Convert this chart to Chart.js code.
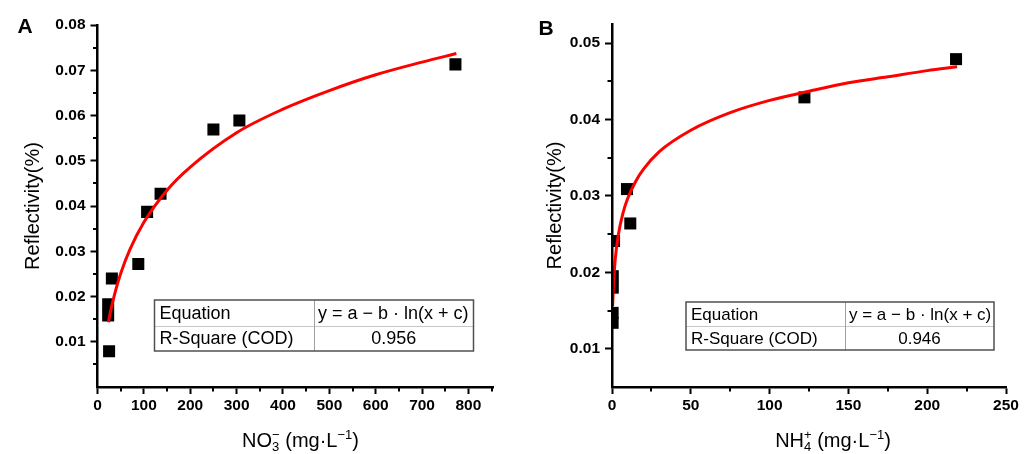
<!DOCTYPE html>
<html><head><meta charset="utf-8">
<script src="https://cdn.jsdelivr.net/npm/chart.js@4.4.1/dist/chart.umd.min.js"></script>
<style>
html,body{margin:0;padding:0;background:#fff;width:1030px;height:454px;overflow:hidden}
canvas{position:absolute;top:0}
</style></head>
<body>
<canvas id="ca" width="515" height="454" style="left:0"></canvas>
<canvas id="cb" width="515" height="454" style="left:515px"></canvas>
<script>
// ---------- Panel A : NO3- ----------
const nitrateX = [23, 23, 25, 31, 88, 107, 136, 250, 306, 772];
const nitrateY = [0.0158, 0.0183, 0.0079, 0.0240, 0.0272, 0.0387, 0.0427, 0.0569, 0.0589, 0.0713];
const nitrateFitX = [23.4, 30, 40, 50, 70, 100, 150, 200, 300, 400, 500, 600, 700, 774];
const nitrateFitY = [0.0143, 0.0176, 0.0217, 0.0251, 0.0304, 0.0364, 0.0435, 0.0486, 0.0562, 0.0614, 0.0655, 0.0690, 0.0718, 0.0737];
const xTicksA = [0, 100, 200, 300, 400, 500, 600, 700, 800];
const xTickLabelsA = ['0', '100', '200', '300', '400', '500', '600', '700', '800'];
const xMinorA = [50, 150, 250, 350, 450, 550, 650, 750, 850];
const yTicksA = [0.01, 0.02, 0.03, 0.04, 0.05, 0.06, 0.07, 0.08];
const yTickLabelsA = ['0.01', '0.02', '0.03', '0.04', '0.05', '0.06', '0.07', '0.08'];
const yMinorA = [0.005, 0.015, 0.025, 0.035, 0.045, 0.055, 0.065, 0.075];
const tableA = [['Equation', 'y = a \u2212 b \u00b7 ln(x + c)'], ['R-Square (COD)', '0.956']];

// ---------- Panel B : NH4+ ----------
const ammoniumX = [0.4, 0.4, 0.5, 0.5, 1.3, 9.5, 11.6, 122.1, 218.3];
const ammoniumY = [0.0134, 0.0147, 0.0180, 0.0195, 0.0241, 0.0309, 0.0264, 0.0429, 0.0479];
const ammoniumFitX = [0.4, 1, 2, 4, 7, 10, 15, 20, 30, 50, 75, 100, 125, 150, 175, 200, 219];
const ammoniumFitY = [0.0156, 0.0187, 0.0216, 0.0249, 0.0278, 0.0297, 0.0319, 0.0335, 0.0358, 0.0386, 0.0409, 0.0425, 0.0437, 0.0448, 0.0456, 0.0464, 0.0469];
const xTicksB = [0, 50, 100, 150, 200, 250];
const xTickLabelsB = ['0', '50', '100', '150', '200', '250'];
const xMinorB = [25, 75, 125, 175, 225];
const yTicksB = [0.01, 0.02, 0.03, 0.04, 0.05];
const yTickLabelsB = ['0.01', '0.02', '0.03', '0.04', '0.05'];
const yMinorB = [0.015, 0.025, 0.035, 0.045];
const tableB = [['Equation', 'y = a \u2212 b \u00b7 ln(x + c)'], ['R-Square (COD)', '0.946']];

const FONT = '"Liberation Sans", Arial, sans-serif';

const decor = {
  id: 'decor',
  afterDraw(chart, args, o) {
    const ctx = chart.ctx, xs = chart.scales.x, ys = chart.scales.y, ca = chart.chartArea;
    ctx.save();
    // minor ticks
    ctx.strokeStyle = '#000'; ctx.lineWidth = 2;
    o.minorX.forEach(v => {
      const p = Math.round(xs.getPixelForValue(v));
      ctx.beginPath(); ctx.moveTo(p, ca.bottom); ctx.lineTo(p, ca.bottom + 4.5); ctx.stroke();
    });
    o.minorY.forEach(v => {
      const p = Math.round(ys.getPixelForValue(v));
      ctx.beginPath(); ctx.moveTo(ca.left, p); ctx.lineTo(ca.left - 4.5, p); ctx.stroke();
    });
    // table
    const t = o.table;
    ctx.fillStyle = '#fff';
    ctx.fillRect(t.x0, t.y0, t.x1 - t.x0, t.y1 - t.y0);
    ctx.lineWidth = 1; ctx.strokeStyle = '#c8c8c8';
    ctx.beginPath(); ctx.moveTo(t.x0, t.ym + 0.5); ctx.lineTo(t.x1, t.ym + 0.5); ctx.stroke();
    ctx.strokeStyle = '#a0a0a0';
    ctx.beginPath(); ctx.moveTo(t.xm + 0.5, t.y0); ctx.lineTo(t.xm + 0.5, t.y1); ctx.stroke();
    ctx.lineWidth = 1.5; ctx.strokeStyle = '#505050';
    ctx.strokeRect(t.x0, t.y0, t.x1 - t.x0, t.y1 - t.y0);
    ctx.fillStyle = '#000';
    ctx.font = t.size + 'px ' + FONT;
    ctx.textBaseline = 'middle';
    const r1 = (t.y0 + t.ym) / 2 + 1, r2 = (t.ym + t.y1) / 2 + 1;
    ctx.textAlign = 'left';
    ctx.fillText(o.rows[0][0], t.x0 + 5, r1);
    ctx.fillText(o.rows[1][0], t.x0 + 5, r2);
    ctx.fillText(o.rows[0][1], t.xm + 4, r1);
    ctx.textAlign = 'center';
    ctx.fillText(o.rows[1][1], (t.xm + t.x1) / 2, r2);
    // x-axis title with stacked sub/superscripts
    const big = 20, small = 13, base = 447;
    const parts = o.xTitle;
    const bigF = big + 'px ' + FONT, smallF = small + 'px ' + FONT;
    let w = 0;
    const widths = parts.map(p => {
      let pw;
      if (p.t !== undefined) { ctx.font = bigF; pw = ctx.measureText(p.t).width; }
      else { ctx.font = smallF; pw = Math.max(ctx.measureText(p.sub || '').width, ctx.measureText(p.sup || '').width); }
      w += pw; return pw;
    });
    let x = o.titleCx - w / 2;
    ctx.textAlign = 'left'; ctx.textBaseline = 'alphabetic';
    parts.forEach((p, i) => {
      if (p.t !== undefined) { ctx.font = bigF; ctx.fillText(p.t, x, base); }
      else {
        ctx.font = smallF;
        if (p.sub) ctx.fillText(p.sub, x, base + 4);
        if (p.sup) ctx.fillText(p.sup, x, base - 8);
      }
      x += widths[i];
    });
    // panel letter
    ctx.font = 'bold 21px ' + FONT;
    ctx.textAlign = 'center'; ctx.textBaseline = 'middle';
    ctx.fillText(o.letter, o.letterX, o.letterY);
    ctx.restore();
  }
};

function makeChart(id, p) {
  return new Chart(document.getElementById(id), {
    type: 'scatter',
    data: {
      datasets: [
        {
          type: 'line', order: 0,
          data: p.fitX.map((x, i) => ({ x, y: p.fitY[i] })),
          borderColor: '#ff0000', borderWidth: 3, pointRadius: 0,
          cubicInterpolationMode: 'monotone', fill: false
        },
        {
          order: 1,
          data: p.x.map((x, i) => ({ x, y: p.y[i] })),
          pointStyle: 'rect', pointRadius: 8.5, pointHoverRadius: 8.5,
          backgroundColor: '#000', borderWidth: 0, clip: 0
        }
      ]
    },
    options: {
      responsive: false, animation: false,
      layout: { padding: { left: 0, top: p.top, right: p.right, bottom: 0 } },
      plugins: {
        legend: { display: false }, tooltip: { enabled: false },
        decor: p.decor
      },
      scales: {
        x: {
          type: 'linear', min: p.xMin, max: p.xMax,
          afterBuildTicks: s => { s.ticks = p.xTicks.map(v => ({ value: v })); },
          afterFit: s => { s.height = 67; },
          ticks: { callback: (v, i) => p.xLabels[i], color: '#000', padding: 2, maxRotation: 0,
                   font: { family: FONT, size: 15.5, weight: 'bold' } },
          grid: { drawOnChartArea: false, drawTicks: true, tickLength: 7, tickWidth: 2, tickColor: '#000' },
          border: { display: true, color: '#000', width: 2.5, z: 1 },
          title: { display: false }
        },
        y: {
          type: 'linear', min: p.yMin, max: p.yMax,
          afterBuildTicks: s => { s.ticks = p.yTicks.map(v => ({ value: v })); },
          afterFit: s => { s.width = p.left; },
          ticks: { callback: (v, i) => p.yLabels[i], color: '#000', padding: 5,
                   font: { family: FONT, size: 15.5, weight: 'bold' } },
          grid: { drawOnChartArea: false, drawTicks: true, tickLength: 7, tickWidth: 2, tickColor: '#000' },
          border: { display: true, color: '#000', width: 2.5, z: 1 },
          title: { display: true, text: 'Reflectivity(%)', color: '#000',
                   font: { family: FONT, size: 20 }, padding: { top: p.yTitlePad, bottom: 0 } }
        }
      }
    },
    plugins: [decor]
  });
}

makeChart('ca', {
  x: nitrateX, y: nitrateY, fitX: nitrateFitX, fitY: nitrateFitY,
  xMin: 0, xMax: 853, yMin: 0, yMax: 0.08,
  xTicks: xTicksA, xLabels: xTickLabelsA, yTicks: yTicksA, yLabels: yTickLabelsA,
  top: 25, right: 22, left: 97.5, yTitlePad: 21,
  decor: {
    minorX: xMinorA, minorY: yMinorA, rows: tableA,
    table: { x0: 154.5, y0: 300, x1: 473.5, y1: 351, xm: 314, ym: 326, size: 18 },
    xTitle: [{ t: 'NO' }, { sub: '3', sup: '\u2212' }, { t: ' (mg\u00b7L' }, { sup: '\u22121' }, { t: ')' }],
    titleCx: 300.5, letter: 'A', letterX: 25, letterY: 27
  }
});

makeChart('cb', {
  x: ammoniumX, y: ammoniumY, fitX: ammoniumFitX, fitY: ammoniumFitY,
  xMin: 0, xMax: 250, yMin: 0.005, yMax: 0.0525,
  xTicks: xTicksB, xLabels: xTickLabelsB, yTicks: yTicksB, yLabels: yTickLabelsB,
  top: 24, right: 24, left: 97, yTitlePad: 28,
  decor: {
    minorX: xMinorB, minorY: yMinorB, rows: tableB,
    table: { x0: 171, y0: 302, x1: 479, y1: 350, xm: 330, ym: 326, size: 17 },
    xTitle: [{ t: 'NH' }, { sub: '4', sup: '+' }, { t: ' (mg\u00b7L' }, { sup: '\u22121' }, { t: ')' }],
    titleCx: 318, letter: 'B', letterX: 31, letterY: 29
  }
});
</script>
</body></html>
